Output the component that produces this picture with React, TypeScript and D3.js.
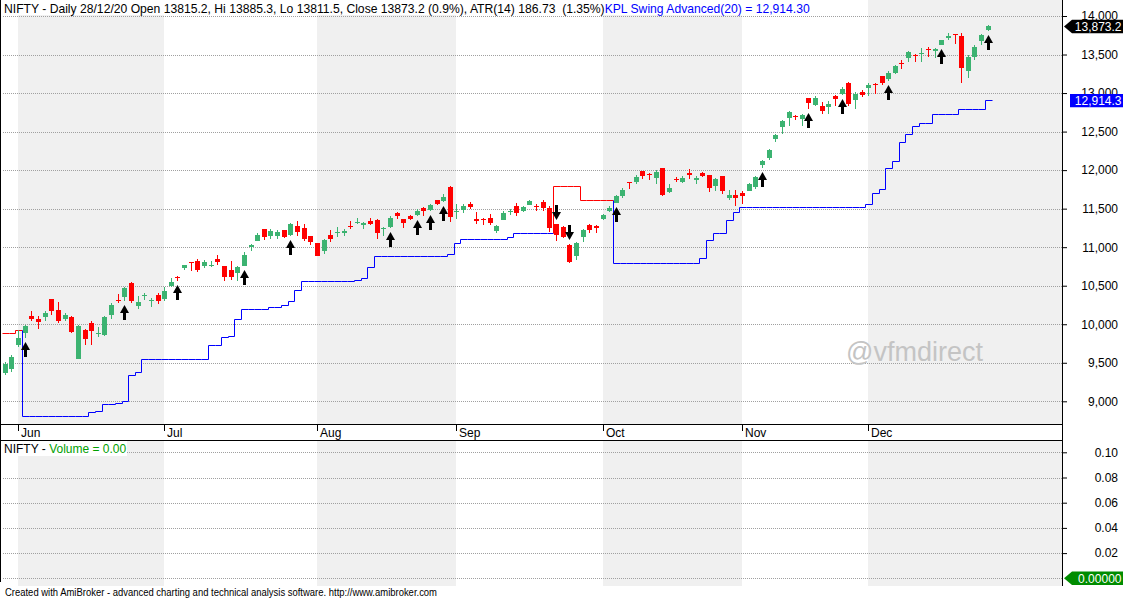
import { useEffect, useRef } from "react";
import * as d3 from "d3";

// trading days shown on the chart
const dates = [
  "2020-05-28", "2020-05-29",
  "2020-06-01", "2020-06-02", "2020-06-03", "2020-06-04", "2020-06-05", "2020-06-08", "2020-06-09", "2020-06-10",
  "2020-06-11", "2020-06-12", "2020-06-15", "2020-06-16", "2020-06-17", "2020-06-18", "2020-06-19", "2020-06-22",
  "2020-06-23", "2020-06-24", "2020-06-25", "2020-06-26", "2020-06-29", "2020-06-30",
  "2020-07-01", "2020-07-02", "2020-07-03", "2020-07-06", "2020-07-07", "2020-07-08", "2020-07-09", "2020-07-10",
  "2020-07-13", "2020-07-14", "2020-07-15", "2020-07-16", "2020-07-17", "2020-07-20", "2020-07-21", "2020-07-22",
  "2020-07-23", "2020-07-24", "2020-07-27", "2020-07-28", "2020-07-29", "2020-07-30", "2020-07-31",
  "2020-08-03", "2020-08-04", "2020-08-05", "2020-08-06", "2020-08-07", "2020-08-10", "2020-08-11", "2020-08-12",
  "2020-08-13", "2020-08-14", "2020-08-17", "2020-08-18", "2020-08-19", "2020-08-20", "2020-08-21", "2020-08-24",
  "2020-08-25", "2020-08-26", "2020-08-27", "2020-08-28", "2020-08-31",
  "2020-09-01", "2020-09-02", "2020-09-03", "2020-09-04", "2020-09-07", "2020-09-08", "2020-09-09", "2020-09-10",
  "2020-09-11", "2020-09-14", "2020-09-15", "2020-09-16", "2020-09-17", "2020-09-18", "2020-09-21", "2020-09-22",
  "2020-09-23", "2020-09-24", "2020-09-25", "2020-09-28", "2020-09-29", "2020-09-30",
  "2020-10-01", "2020-10-05", "2020-10-06", "2020-10-07", "2020-10-08", "2020-10-09", "2020-10-12", "2020-10-13",
  "2020-10-14", "2020-10-15", "2020-10-16", "2020-10-19", "2020-10-20", "2020-10-21", "2020-10-22", "2020-10-23",
  "2020-10-26", "2020-10-27", "2020-10-28", "2020-10-29", "2020-10-30",
  "2020-11-02", "2020-11-03", "2020-11-04", "2020-11-05", "2020-11-06", "2020-11-09", "2020-11-10", "2020-11-11",
  "2020-11-12", "2020-11-13", "2020-11-17", "2020-11-18", "2020-11-19", "2020-11-20", "2020-11-23", "2020-11-24",
  "2020-11-25", "2020-11-26", "2020-11-27",
  "2020-12-01", "2020-12-02", "2020-12-03", "2020-12-04", "2020-12-07", "2020-12-08", "2020-12-09", "2020-12-10",
  "2020-12-11", "2020-12-14", "2020-12-15", "2020-12-16", "2020-12-17", "2020-12-18", "2020-12-21", "2020-12-22",
  "2020-12-23", "2020-12-24", "2020-12-28",
];

const opens = [
  9365, 9422,
  9727, 9881, 10108, 10073, 10094, 10327, 10181, 10072, 10094, 9544, 9919, 10015, 9877, 9863, 10119, 10319, 10348,
  10529, 10236, 10378, 10312, 10383,
  10324, 10493, 10615, 10724, 10803, 10819, 10756, 10764, 10852, 10751, 10701, 10662, 10752, 11000, 11078, 11231,
  11150, 11150, 11225, 11154, 11277, 11246, 11140,
  11058, 10947, 11156, 11186, 11186, 11275, 11322, 11289, 11335, 11353, 11240, 11259, 11450, 11366, 11410, 11412,
  11512, 11484, 11610, 11603, 11778,
  11464, 11479, 11566, 11366, 11360, 11382, 11210, 11353, 11451, 11535, 11465, 11550, 11540, 11587, 11509, 11301,
  11262, 11030, 10886, 11127, 11284, 11280,
  11364, 11474, 11578, 11665, 11840, 11840, 11985, 11950, 11898, 12024, 11713, 11880, 11846, 11963, 11872, 11963,
  11941, 11798, 11924, 11633, 11683,
  11703, 11734, 11783, 12062, 12157, 12399, 12556, 12680, 12700, 12660, 12933, 12845, 12832, 12814, 12960, 12985,
  13130, 12907, 13012,
  13062, 13121, 13215, 13177, 13265, 13394, 13452, 13488, 13510, 13570, 13547, 13630, 13714, 13764, 13741, 13292,
  13474, 13672, 13815.2,
];

const highs = [
  9511, 9598,
  9931, 9996, 10176, 10113, 10178, 10329, 10291, 10149, 10112, 9996, 9943, 10046, 9967, 10111, 10272, 10394, 10485,
  10553, 10362, 10410, 10338, 10401,
  10486, 10598, 10631, 10775, 10814, 10848, 10836, 10819, 10894, 10756, 10827, 10755, 10933, 11038, 11180, 11238,
  11240, 11225, 11225, 11318, 11341, 11300, 11150,
  11058, 11112, 11226, 11257, 11232, 11337, 11374, 11332, 11373, 11366, 11268, 11402, 11460, 11370, 11418, 11497,
  11525, 11556, 11617, 11686, 11794,
  11554, 11557, 11584, 11452, 11382, 11425, 11293, 11469, 11493, 11571, 11533, 11618, 11561, 11618, 11536, 11302,
  11280, 11037, 11063, 11239, 11305, 11286,
  11429, 11530, 11680, 11773, 11849, 11939, 11995, 11965, 11997, 12025, 11816, 11905, 11926, 12019, 11930, 11975,
  11943, 11899, 11929, 11745, 11748,
  11726, 11836, 11930, 12131, 12280, 12474, 12644, 12770, 12721, 12730, 12934, 12963, 12880, 12892, 12969, 13079,
  13146, 13018, 13035,
  13129, 13129, 13217, 13280, 13367, 13430, 13549, 13504, 13579, 13598, 13587, 13692, 13773, 13772, 13777, 13492,
  13619, 13772, 13885.3,
];

const lows = [
  9337, 9376,
  9707, 9824, 10036, 9944, 10041, 10120, 10021, 10037, 9885, 9544, 9726, 9729, 9834, 9845, 10073, 10278, 10302,
  10282, 10195, 10311, 10224, 10267,
  10300, 10486, 10563, 10698, 10690, 10677, 10725, 10742, 10773, 10563, 10578, 10563, 10750, 10953, 11075, 11098,
  11103, 11104, 11117, 11151, 11150, 11085, 11027,
  10882, 10908, 11064, 11127, 11142, 11239, 11299, 11233, 11284, 11111, 11144, 11253, 11368, 11255, 11351, 11404,
  11410, 11471, 11541, 11589, 11326,
  11367, 11448, 11495, 11304, 11282, 11288, 11185, 11349, 11419, 11406, 11463, 11544, 11465, 11465, 11195, 11085,
  11113, 10790, 10837, 11064, 11182, 11178,
  11347, 11455, 11571, 11635, 11755, 11817, 11880, 11875, 11822, 11661, 11700, 11844, 11830, 11889, 11823, 11909,
  11712, 11723, 11685, 11606, 11535,
  11557, 11723, 11756, 12028, 12132, 12367, 12475, 12572, 12644, 12571, 12798, 12831, 12730, 12730, 12826, 12978,
  12834, 12790, 12943,
  12963, 12984, 13108, 13153, 13242, 13311, 13401, 13403, 13402, 13472, 13460, 13625, 13693, 13635, 13131, 13192,
  13432, 13627, 13811.5,
];

const closes = [
  9490, 9580,
  9826, 9979, 10062, 10029, 10142, 10167, 10046, 10116, 9902, 9973, 9814, 9914, 9881, 10092, 10244, 10311, 10471,
  10305, 10289, 10383, 10313, 10302,
  10430, 10552, 10607, 10764, 10800, 10706, 10813, 10768, 10803, 10607, 10618, 10740, 10902, 11022, 11162, 11133,
  11215, 11194, 11132, 11301, 11203, 11102, 11073,
  10892, 11095, 11102, 11200, 11214, 11270, 11323, 11308, 11300, 11178, 11247, 11385, 11408, 11312, 11372, 11467,
  11472, 11550, 11559, 11648, 11388,
  11470, 11535, 11527, 11334, 11355, 11317, 11278, 11449, 11464, 11440, 11522, 11605, 11516, 11505, 11251, 11154,
  11132, 10805, 11050, 11228, 11222, 11248,
  11417, 11503, 11662, 11739, 11835, 11914, 11930, 11935, 11971, 11680, 11762, 11873, 11897, 11938, 11896, 11930,
  11768, 11889, 11730, 11671, 11642,
  11669, 11814, 11909, 12120, 12264, 12461, 12631, 12749, 12691, 12720, 12874, 12938, 12772, 12859, 12926, 13055,
  12858, 12987, 12969,
  13109, 13114, 13134, 13259, 13356, 13393, 13529, 13478, 13514, 13558, 13568, 13683, 13741, 13761, 13328, 13466,
  13601, 13749, 13873.2,
];

// KPL Swing Advanced(20) trailing level, one value per bar
const stops = [
  9883, 9883,
  9922, 8806, 8806, 8806, 8806, 8806, 8806, 8806, 8806, 8806, 8806, 8858, 8871, 8966, 8966, 8983, 9001,
  9342, 9377, 9546, 9546, 9546,
  9546, 9546, 9546, 9546, 9546, 9546, 9546, 9727, 9727, 9835, 9843, 10069, 10200, 10200, 10200, 10200,
  10228, 10228, 10254, 10298, 10440, 10558, 10558,
  10558, 10558, 10558, 10558, 10558, 10558, 10575, 10605, 10740, 10886, 10886, 10886, 10886, 10886, 10886, 10886,
  10886, 10886, 10886, 10886, 10908,
  11058, 11102, 11102, 11102, 11102, 11102, 11102, 11102, 11128, 11180, 11180, 11180, 11180, 11180, 11180, 11794,
  11794, 11794, 11794, 11609, 11609, 11609,
  11609, 11609, 10791, 10791, 10791, 10791, 10791, 10791, 10791, 10791, 10791, 10791, 10791, 10791, 10791, 10856,
  11094, 11180, 11180, 11349, 11457,
  11526, 11526, 11526, 11526, 11526, 11526, 11526, 11526, 11526, 11526, 11526, 11526, 11526, 11526, 11526, 11526,
  11526, 11526, 11526,
  11557, 11707, 11751, 12024, 12123, 12361, 12465, 12573, 12608, 12608, 12725, 12725, 12725, 12725, 12789, 12789,
  12789, 12789, 12914.3,
];

const buyDates = [
  "2020-06-02", "2020-06-23", "2020-07-03", "2020-07-17", "2020-07-28", "2020-08-18", "2020-08-24", "2020-08-26",
  "2020-08-28", "2020-10-06", "2020-11-05", "2020-11-17", "2020-11-24", "2020-12-04", "2020-12-16", "2020-12-28",
];
const sellDates = ["2020-09-22", "2020-09-24"];

const priceTicks = [9000, 9500, 10000, 10500, 11000, 11500, 12000, 12500, 13000, 13500, 14000];
const volumeTicks = [0, 0.02, 0.04, 0.06, 0.08, 0.1];
const volumeValue = 0;

const titleMain =
  "NIFTY - Daily 28/12/20 Open 13815.2, Hi 13885.3, Lo 13811.5, Close 13873.2 (0.9%), ATR(14) 186.73  (1.35%)";
const titleIndicator = "KPL Swing Advanced(20) = 12,914.30";
const footer =
  "Created with AmiBroker - advanced charting and technical analysis software. http://www.amibroker.com";

const FONT = "'Liberation Sans', Arial, sans-serif";
const UP = "#3cb371";
const DOWN = "#ff0000";

export default function App() {
  const svgRef = useRef<SVGSVGElement>(null);

  useEffect(() => {
    const width = 1123;
    const height = 599;
    const plotRight = 1062;
    const svg = d3.select(svgRef.current).attr("width", width).attr("height", height);
    svg.selectAll("*").remove();
    svg.attr("font-family", FONT);

    svg.append("rect").attr("width", width).attr("height", height).attr("fill", "#fff");

    // scales
    const x = d3.scaleBand<string>().domain(dates).range([1.98, 991.6]);
    const bw = x.bandwidth();
    const cx = (d: string) => Math.floor((x(d) as number) + bw / 2);
    const y = d3.scaleLinear().domain([9000, 14000]).range([401.3, 16]);
    const yv = d3.scaleLinear().domain([0, 0.1]).range([578.3, 452.3]);

    // month boundaries
    const monthStarts = dates.filter((d, i) => i > 0 && d.slice(5, 7) !== dates[i - 1].slice(5, 7));
    const parse = d3.timeParse("%Y-%m-%d");
    const monthName = d3.timeFormat("%b");

    // alternating month shading in both panes
    const shade = svg.append("g").attr("fill", "#f0f0f0").attr("shape-rendering", "crispEdges");
    monthStarts.forEach((d, k) => {
      if (k % 2 !== 0) return;
      const x0 = cx(d);
      const x1 = k + 1 < monthStarts.length ? cx(monthStarts[k + 1]) : plotRight;
      shade.append("rect").attr("x", x0).attr("y", 0).attr("width", x1 - x0).attr("height", 424);
      shade.append("rect").attr("x", x0).attr("y", 441).attr("width", x1 - x0).attr("height", 145);
    });

    // grid lines
    const grid = svg
      .append("g")
      .attr("stroke", "#a0a0a0")
      .attr("stroke-dasharray", "1,1")
      .attr("shape-rendering", "crispEdges");
    grid
      .selectAll(".pg")
      .data(priceTicks)
      .join("line")
      .attr("x1", 3)
      .attr("x2", plotRight)
      .attr("y1", (d) => Math.round(y(d)) + 0.5)
      .attr("y2", (d) => Math.round(y(d)) + 0.5);
    grid
      .selectAll(".vg")
      .data(volumeTicks)
      .join("line")
      .attr("x1", 3)
      .attr("x2", plotRight)
      .attr("y1", (d) => Math.round(yv(d)) + 0.5)
      .attr("y2", (d) => Math.round(yv(d)) + 0.5);

    // watermark
    svg
      .append("text")
      .attr("x", 846)
      .attr("y", 361)
      .attr("font-size", 27)
      .attr("fill", "#c4c4c4")
      .text("@vfmdirect");

    // titles
    svg.append("rect").attr("x", 2).attr("y", 0).attr("width", 812).attr("height", 15).attr("fill", "#fff");
    const t1 = svg
      .append("text")
      .attr("x", 4)
      .attr("y", 13)
      .attr("font-size", 12.15)
      .style("white-space", "pre");
    t1.append("tspan").attr("fill", "#000").text(titleMain);
    t1.append("tspan").attr("fill", "#0000ff").text(titleIndicator);

    svg.append("rect").attr("x", 2).attr("y", 441).attr("width", 125).attr("height", 15).attr("fill", "#fff");
    const t2 = svg
      .append("text")
      .attr("x", 4)
      .attr("y", 453)
      .attr("font-size", 12)
      .style("white-space", "pre");
    t2.append("tspan").attr("fill", "#000").text("NIFTY - ");
    t2.append("tspan").attr("fill", "#00a000").text("Volume = " + d3.format(".2f")(volumeValue));

    // trailing stop line, red while short, blue while long
    const stopColor = (i: number) => (stops[i] > closes[i] ? DOWN : "#0000ff");
    const runs: [number, number][] = [];
    let start = 0;
    for (let i = 1; i <= dates.length; i++) {
      if (i === dates.length || stopColor(i) !== stopColor(start)) {
        runs.push([start, i - 1]);
        start = i;
      }
    }
    const stepLine = d3
      .line<[number, number]>()
      .x((p) => Math.round(p[0]) + 0.5)
      .y((p) => Math.round(p[1]) + 0.5)
      .curve(d3.curveStepAfter);
    runs.forEach(([s, e]) => {
      const pts: [number, number][] = [];
      if (s > 0) pts.push([x(dates[s]) as number, y(stops[s - 1])]);
      for (let i = s; i <= e; i++) pts.push([x(dates[i]) as number, y(stops[i])]);
      pts.push([(x(dates[e]) as number) + bw, y(stops[e])]);
      svg
        .append("path")
        .attr("d", stepLine(pts))
        .attr("fill", "none")
        .attr("stroke", stopColor(s))
        .attr("stroke-width", 1);
    });

    // candles
    const bars = dates.map((d, i) => ({ d, o: opens[i], h: highs[i], l: lows[i], c: closes[i] }));
    const candles = svg.append("g").attr("shape-rendering", "crispEdges");
    candles
      .selectAll(".wick")
      .data(bars)
      .join("rect")
      .attr("x", (b) => cx(b.d))
      .attr("width", 1)
      .attr("y", (b) => Math.round(y(b.h)))
      .attr("height", (b) => Math.max(1, Math.round(y(b.l)) - Math.round(y(b.h))))
      .attr("fill", (b) => (b.c >= b.o ? UP : DOWN));
    candles
      .selectAll(".body")
      .data(bars)
      .join("rect")
      .attr("x", (b) => cx(b.d) - 2)
      .attr("width", 5)
      .attr("y", (b) => Math.round(y(Math.max(b.o, b.c))))
      .attr("height", (b) => Math.max(1, Math.round(y(Math.min(b.o, b.c))) - Math.round(y(Math.max(b.o, b.c)))))
      .attr("fill", (b) => (b.c >= b.o ? UP : DOWN));

    // buy / sell arrows
    const arrow = (tx: number, ty: number, dir: number) =>
      `M${tx},${ty} L${tx + 4.5},${ty + 8 * dir} L${tx + 1.5},${ty + 8 * dir} L${tx + 1.5},${ty + 15 * dir} ` +
      `L${tx - 1.5},${ty + 15 * dir} L${tx - 1.5},${ty + 8 * dir} L${tx - 4.5},${ty + 8 * dir} Z`;
    svg
      .append("g")
      .selectAll("path")
      .data(buyDates)
      .join("path")
      .attr("d", (d) => {
        const i = dates.indexOf(d);
        return arrow(cx(d) + 0.5, Math.round(y(lows[i])) + 4, 1);
      })
      .attr("fill", "#000");
    svg
      .append("g")
      .selectAll("path")
      .data(sellDates)
      .join("path")
      .attr("d", (d) => {
        const i = dates.indexOf(d);
        return arrow(cx(d) + 0.5, Math.round(y(highs[i])) - 4, -1);
      })
      .attr("fill", "#000");

    // frame and date axis
    const frame = svg.append("g").attr("stroke", "#000").attr("shape-rendering", "crispEdges");
    frame.append("line").attr("x1", 0.5).attr("x2", 0.5).attr("y1", 0).attr("y2", 582);
    frame.append("line").attr("x1", plotRight + 0.5).attr("x2", plotRight + 0.5).attr("y1", 0).attr("y2", 586);
    frame.append("line").attr("x1", 0).attr("x2", plotRight).attr("y1", 424.5).attr("y2", 424.5);
    frame.append("line").attr("x1", 0).attr("x2", plotRight).attr("y1", 440.5).attr("y2", 440.5);

    svg.append("rect").attr("x", 1).attr("y", 425).attr("width", plotRight - 1).attr("height", 15).attr("fill", "#fff");
    const monthAxis = svg.append("g");
    monthAxis
      .selectAll("line")
      .data(monthStarts)
      .join("line")
      .attr("x1", (d) => cx(d) + 0.5)
      .attr("x2", (d) => cx(d) + 0.5)
      .attr("y1", 425)
      .attr("y2", 431)
      .attr("stroke", "#000")
      .attr("shape-rendering", "crispEdges");
    monthAxis
      .selectAll("text")
      .data(monthStarts)
      .join("text")
      .attr("x", (d) => cx(d) + 3)
      .attr("y", 436.5)
      .attr("font-size", 12)
      .attr("fill", "#000")
      .text((d) => monthName(parse(d) as Date));

    // price axis
    const priceAxis = d3
      .axisRight(y)
      .tickValues(priceTicks)
      .tickSize(5)
      .tickFormat((d) => d3.format(",")(d as number));
    const pa = svg.append("g").attr("transform", `translate(${plotRight},0)`).call(priceAxis);
    pa.select(".domain").remove();
    pa.selectAll("line").attr("stroke", "#000");
    pa.selectAll("text")
      .attr("x", 56)
      .attr("text-anchor", "end")
      .attr("font-size", 12)
      .attr("font-family", FONT)
      .attr("fill", "#000");

    const volAxis = d3
      .axisRight(yv)
      .tickValues(volumeTicks.filter((v) => v > 0))
      .tickSize(5)
      .tickFormat((d) => d3.format(".2f")(d as number));
    const va = svg.append("g").attr("transform", `translate(${plotRight},0)`).call(volAxis);
    va.select(".domain").remove();
    va.selectAll("line").attr("stroke", "#000");
    va.selectAll("text")
      .attr("x", 56)
      .attr("text-anchor", "end")
      .attr("font-size", 12)
      .attr("font-family", FONT)
      .attr("fill", "#000");

    // value labels on the axis
    const lastIdx = dates.length - 1;
    const tag = (cy: number, fill: string, label: string, pointed: boolean, x0: number) => {
      const h = 6.7;
      const d = pointed
        ? `M${x0},${cy} L${x0 + 8},${cy - h} L1123,${cy - h} L1123,${cy + h} L${x0 + 8},${cy + h} Z`
        : `M${x0},${cy - h} L1123,${cy - h} L1123,${cy + h} L${x0},${cy + h} Z`;
      svg.append("path").attr("d", d).attr("fill", fill);
      svg
        .append("text")
        .attr("x", 1121.5)
        .attr("y", cy + 4.3)
        .attr("text-anchor", "end")
        .attr("font-size", 12)
        .attr("fill", "#fff")
        .text(label);
    };
    tag(y(closes[lastIdx]) + 0.7, "#000", d3.format(",.1f")(closes[lastIdx]), true, 1064);
    tag(y(stops[lastIdx]) + 1, "#0000ff", d3.format(",.1f")(stops[lastIdx]), false, 1070);
    tag(yv(volumeValue), "#008c00", d3.format(".5f")(volumeValue), true, 1064);

    // footer
    svg
      .append("text")
      .attr("x", 5)
      .attr("y", 596)
      .attr("font-size", 10)
      .attr("textLength", 432)
      .attr("lengthAdjust", "spacingAndGlyphs")
      .attr("fill", "#000")
      .text(footer);
  }, []);

  return (
    <div style={{ position: "absolute", left: 0, top: 0 }}>
      <svg ref={svgRef} style={{ display: "block" }}></svg>
    </div>
  );
}
